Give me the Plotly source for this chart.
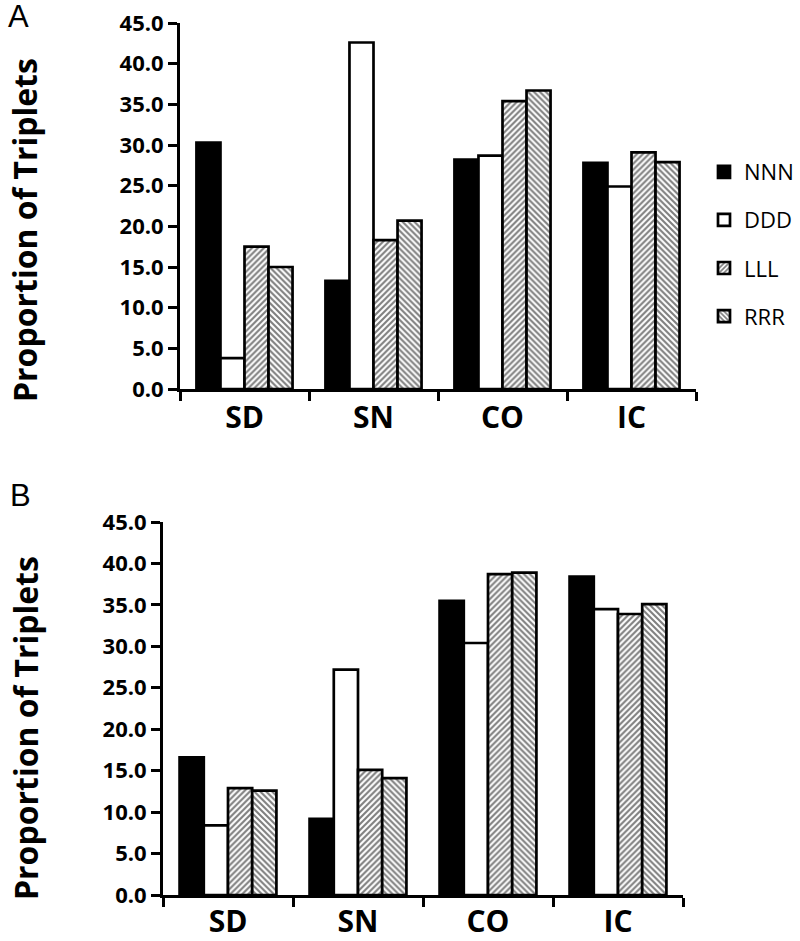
import plotly.graph_objects as go

categories = ["SD", "SN", "CO", "IC"]
series_names = ["NNN", "DDD", "LLL", "RRR"]

a_nnn = [30.3, 13.3, 28.2, 27.8]
a_ddd = [3.8, 42.6, 28.7, 24.9]
a_lll = [17.5, 18.3, 35.4, 29.1]
a_rrr = [15.0, 20.7, 36.7, 27.9]

b_nnn = [16.6, 9.2, 35.5, 38.4]
b_ddd = [8.4, 27.2, 30.4, 34.5]
b_lll = [12.9, 15.1, 38.7, 33.9]
b_rrr = [12.6, 14.1, 38.9, 35.1]

y_ticks = [0, 5, 10, 15, 20, 25, 30, 35, 40, 45]

W, H = 800, 941


def px(xp):
    return xp / W


def py(yp):
    return 1 - yp / H


styles = {
    "NNN": dict(color="black", pattern=None),
    "DDD": dict(color="white", pattern=None),
    "LLL": dict(color="white", pattern=dict(shape="/", fgcolor="black", bgcolor="white", size=4.2, solidity=0.5)),
    "RRR": dict(color="white", pattern=dict(shape="\\", fgcolor="black", bgcolor="white", size=4.2, solidity=0.5)),
}

fig = go.Figure()

panels = [
    ("x", "y", [a_nnn, a_ddd, a_lll, a_rrr], True),
    ("x2", "y2", [b_nnn, b_ddd, b_lll, b_rrr], False),
]
for xa, ya, vals, show in panels:
    for name, v in zip(series_names, vals):
        st = styles[name]
        marker = dict(color=st["color"], line=dict(color="black", width=2.7))
        if st["pattern"]:
            marker["pattern"] = st["pattern"]
        fig.add_trace(go.Bar(
            x=categories, y=v, name=name, xaxis=xa, yaxis=ya,
            marker=marker, showlegend=show, legendgroup=name,
        ))

tickfont = dict(family="Open Sans", size=22, color="black", weight="bold")
xfont = dict(family="Open Sans", size=30, color="black", weight="bold")


def xaxis(domain, anchor, standoff=0):
    return dict(domain=domain, anchor=anchor, type="category", range=[-0.5, 3.5],
                tickson="boundaries", ticks="outside", ticklen=9, tickwidth=3, tickcolor="black",
                showline=True, linewidth=3, linecolor="black", showgrid=False,
                tickfont=xfont, fixedrange=True, automargin=False,
                ticklabeloverflow="allow", ticklabelstandoff=standoff)


def yaxis(domain, anchor):
    return dict(domain=domain, anchor=anchor, range=[0, 45], tickvals=y_ticks, tickformat=".1f",
                ticks="outside", ticklen=9, tickwidth=3, tickcolor="black",
                showline=True, linewidth=3, linecolor="black", showgrid=False, zeroline=False,
                tickfont=tickfont, fixedrange=True, automargin=False,
                ticklabeloverflow="allow")


fig.update_layout(
    width=W, height=H,
    margin=dict(l=0, r=0, t=0, b=0, autoexpand=False),
    paper_bgcolor="white", plot_bgcolor="white",
    barmode="group", bargap=0.255, bargroupgap=0,
    xaxis=xaxis([px(180), px(696)], "y"),
    yaxis=yaxis([py(389), py(23)], "x"),
    xaxis2=xaxis([px(163), px(683)], "y2", standoff=-2),
    yaxis2=yaxis([py(895), py(522)], "x2"),
    legend=dict(x=px(704), xanchor="left", y=py(151), yanchor="top",
                font=dict(family="Open Sans", size=22, color="black"),
                tracegroupgap=16.5, bgcolor="rgba(0,0,0,0)", itemclick=False, itemdoubleclick=False),
    showlegend=True,
)

annotations = [
    dict(text="A", x=px(6), y=py(16), xanchor="left", yanchor="middle",
         font=dict(family="Liberation Sans", size=31, color="black")),
    dict(text="B", x=px(8), y=py(496), xanchor="left", yanchor="middle",
         font=dict(family="Liberation Sans", size=31, color="black")),
    dict(text="Proportion of Triplets", x=px(25), y=py(230), textangle=-90,
         xanchor="center", yanchor="middle",
         font=dict(family="Open Sans", size=32, color="black", weight="bold")),
    dict(text="Proportion of Triplets", x=px(25), y=py(728), textangle=-90,
         xanchor="center", yanchor="middle",
         font=dict(family="Open Sans", size=32, color="black", weight="bold")),
]
for a in annotations:
    a.update(xref="paper", yref="paper", showarrow=False)
fig.update_layout(annotations=annotations)

fig.write_html("out.html", config={"displayModeBar": False},
               post_script="document.body.style.margin='0';")
